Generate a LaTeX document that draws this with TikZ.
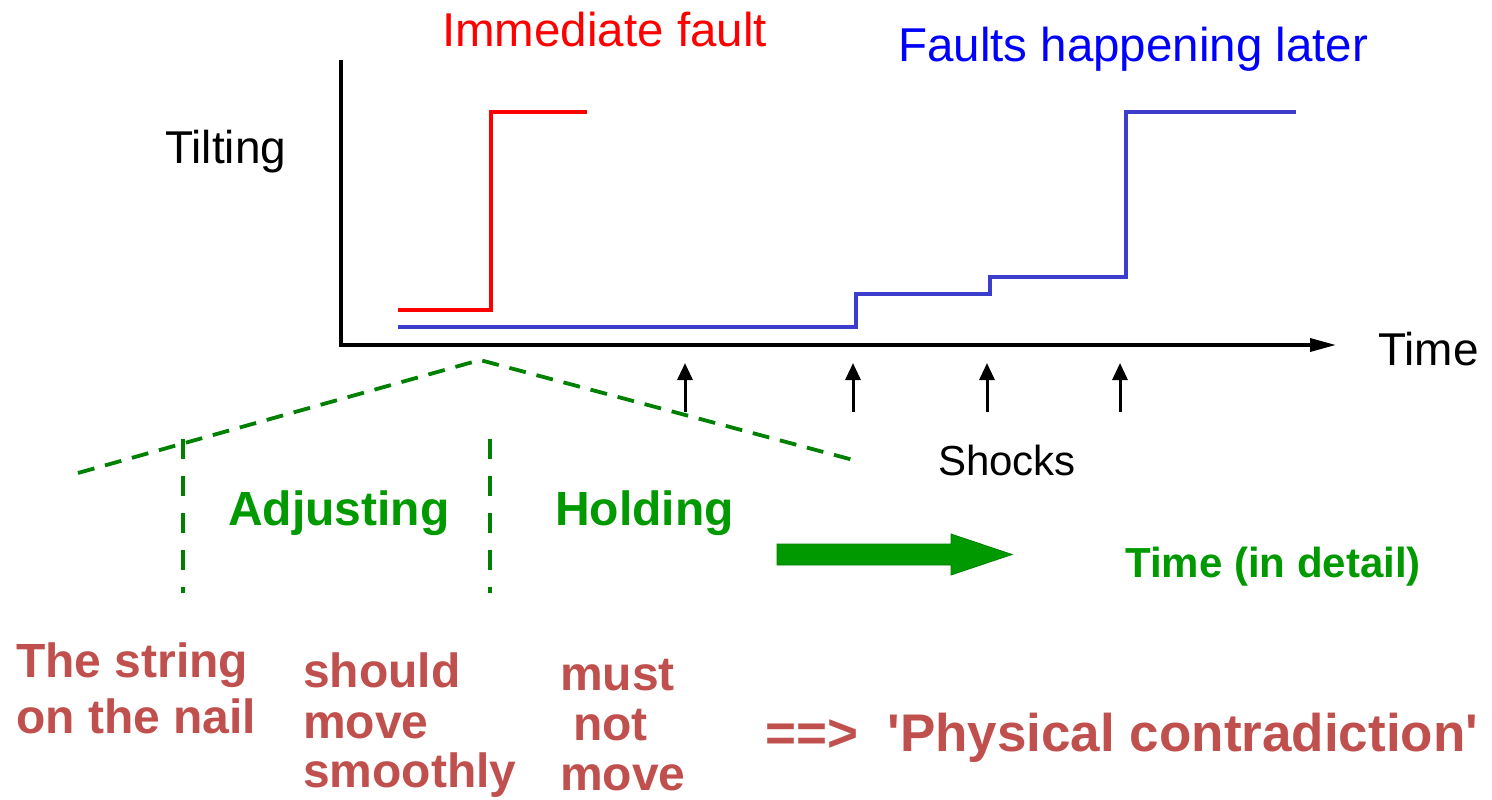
\documentclass[tikz,border=0pt]{standalone}
\usepackage{fontspec}
\setmainfont{Liberation Sans}
\newfontfamily\libplain{Liberation Sans}
\usetikzlibrary{arrows.meta}
\definecolor{faultred}{RGB}{255,0,0}
\definecolor{laterblue}{RGB}{0,0,255}
\definecolor{lineblue}{RGB}{60,60,205}
\definecolor{dashgreen}{RGB}{0,128,0}
\definecolor{textgreen}{RGB}{0,153,0}
\definecolor{brick}{RGB}{192,80,77}
\tikzset{
  lbl/.style={inner sep=0pt, anchor=base west},
  reg/.style={lbl, font=\fontsize{47.5}{56}\selectfont},
  regs/.style={lbl, font=\fontsize{42}{50}\selectfont},
  bld/.style={lbl, font=\fontsize{48}{56}\selectfont\bfseries},
  bldbig/.style={lbl, font=\libplain\fontsize{53}{60}\selectfont\bfseries},
  axisline/.style={line width=3.5pt, black},
  curve/.style={line width=3.5pt, line join=miter},
  gdash/.style={line width=3.8pt, dashgreen, dash pattern=on 17pt off 11pt},
  vdash/.style={line width=3.8pt, dashgreen, dash pattern=on 20pt off 17pt},
  shock/.style={line width=3pt, black, -{Triangle[length=17pt, width=15pt]}},
}
\begin{document}
\begin{tikzpicture}[x=1pt, y=-1pt]
\useasboundingbox (0,0) rectangle (1492,800);

% axes
\coordinate (ytop) at (341,62);
\coordinate (origin) at (341,345);
\coordinate (xend) at (1336,345);
\draw[axisline, line cap=rect] (ytop) -- (origin);
\draw[axisline, -{Triangle[length=26pt, width=13pt]}] (origin) -- (xend);

% red curve (immediate fault)
\coordinate (r0) at (398,310);
\coordinate (r1) at (491,310);
\coordinate (r2) at (491,112);
\coordinate (r3) at (587,112);
\draw[curve, faultred] (r0) -- (r1) -- (r2) -- (r3);

% blue curve (faults happening later)
\coordinate (b0) at (398,327);
\coordinate (b1) at (856,327);
\coordinate (b2) at (856,294);
\coordinate (b3) at (990,294);
\coordinate (b4) at (990,277);
\coordinate (b5) at (1126,277);
\coordinate (b6) at (1126,112);
\coordinate (b7) at (1296,112);
\draw[curve, lineblue] (b0) -- (b1) -- (b2) -- (b3) -- (b4) -- (b5) -- (b6) -- (b7);

% shocks
\foreach \i/\x in {1/685, 2/853, 3/987, 4/1120} {
  \coordinate (sb\i) at (\x,412);
  \coordinate (st\i) at (\x,363);
  \draw[shock] (sb\i) -- (st\i);
}

% green zoom lines
\coordinate (gl) at (78,473);
\coordinate (gapex) at (480,360);
\coordinate (gr) at (857,461);
\draw[gdash] (gl) -- (gapex) -- (gr);
\coordinate (v1t) at (183,439);
\coordinate (v1b) at (183,593);
\coordinate (v2t) at (490,439);
\coordinate (v2b) at (490,593);
\draw[vdash] (v1t) -- (v1b);
\draw[vdash] (v2t) -- (v2b);

% block arrow
\filldraw[fill=textgreen, draw=dashgreen, line width=0.8pt, line join=miter]
  (777,544) -- (951,544) -- (951,534) -- (1012,554.5) -- (951,575) -- (951,565) -- (777,565) -- cycle;

% labels
\node[reg, text=faultred] (imm) at (442,47) {Immediate fault};
\node[reg, text=laterblue] (later) at (898,62) {Faults happening later};
\node[reg, font=\fontsize{46}{54}\selectfont] (tilt) at (165,163) {Tilting};
\node[reg, font=\fontsize{46}{54}\selectfont] (time) at (1378,365) {Time};
\node[regs] (shocks) at (938,475) {Shocks};
\node[bld, text=textgreen] (adj) at (228,525) {Adjusting};
\node[bld, text=textgreen] (hold) at (555,525) {Holding};
\node[bld, font=\fontsize{42}{50}\selectfont\bfseries, text=textgreen] (tdet) at (1125,577) {Time (in detail)};

\node[bld, text=brick] (str1) at (16,677) {The string};
\node[bld, text=brick] (str2) at (16,733) {on the nail};
\node[bld, text=brick] (sh1) at (303,687) {should};
\node[bld, text=brick] (sh2) at (303,738) {move};
\node[bld, text=brick] (sh3) at (303,787) {smoothly};
\node[bld, text=brick] (mu1) at (560,690) {must};
\node[bld, text=brick] (mu2) at (573,740) {not};
\node[bld, text=brick] (mu3) at (560,790) {move};
\node[bldbig, text=brick] (phys) at (765,751) {==>\ \ 'Physical contradiction'};
\end{tikzpicture}
\end{document}
